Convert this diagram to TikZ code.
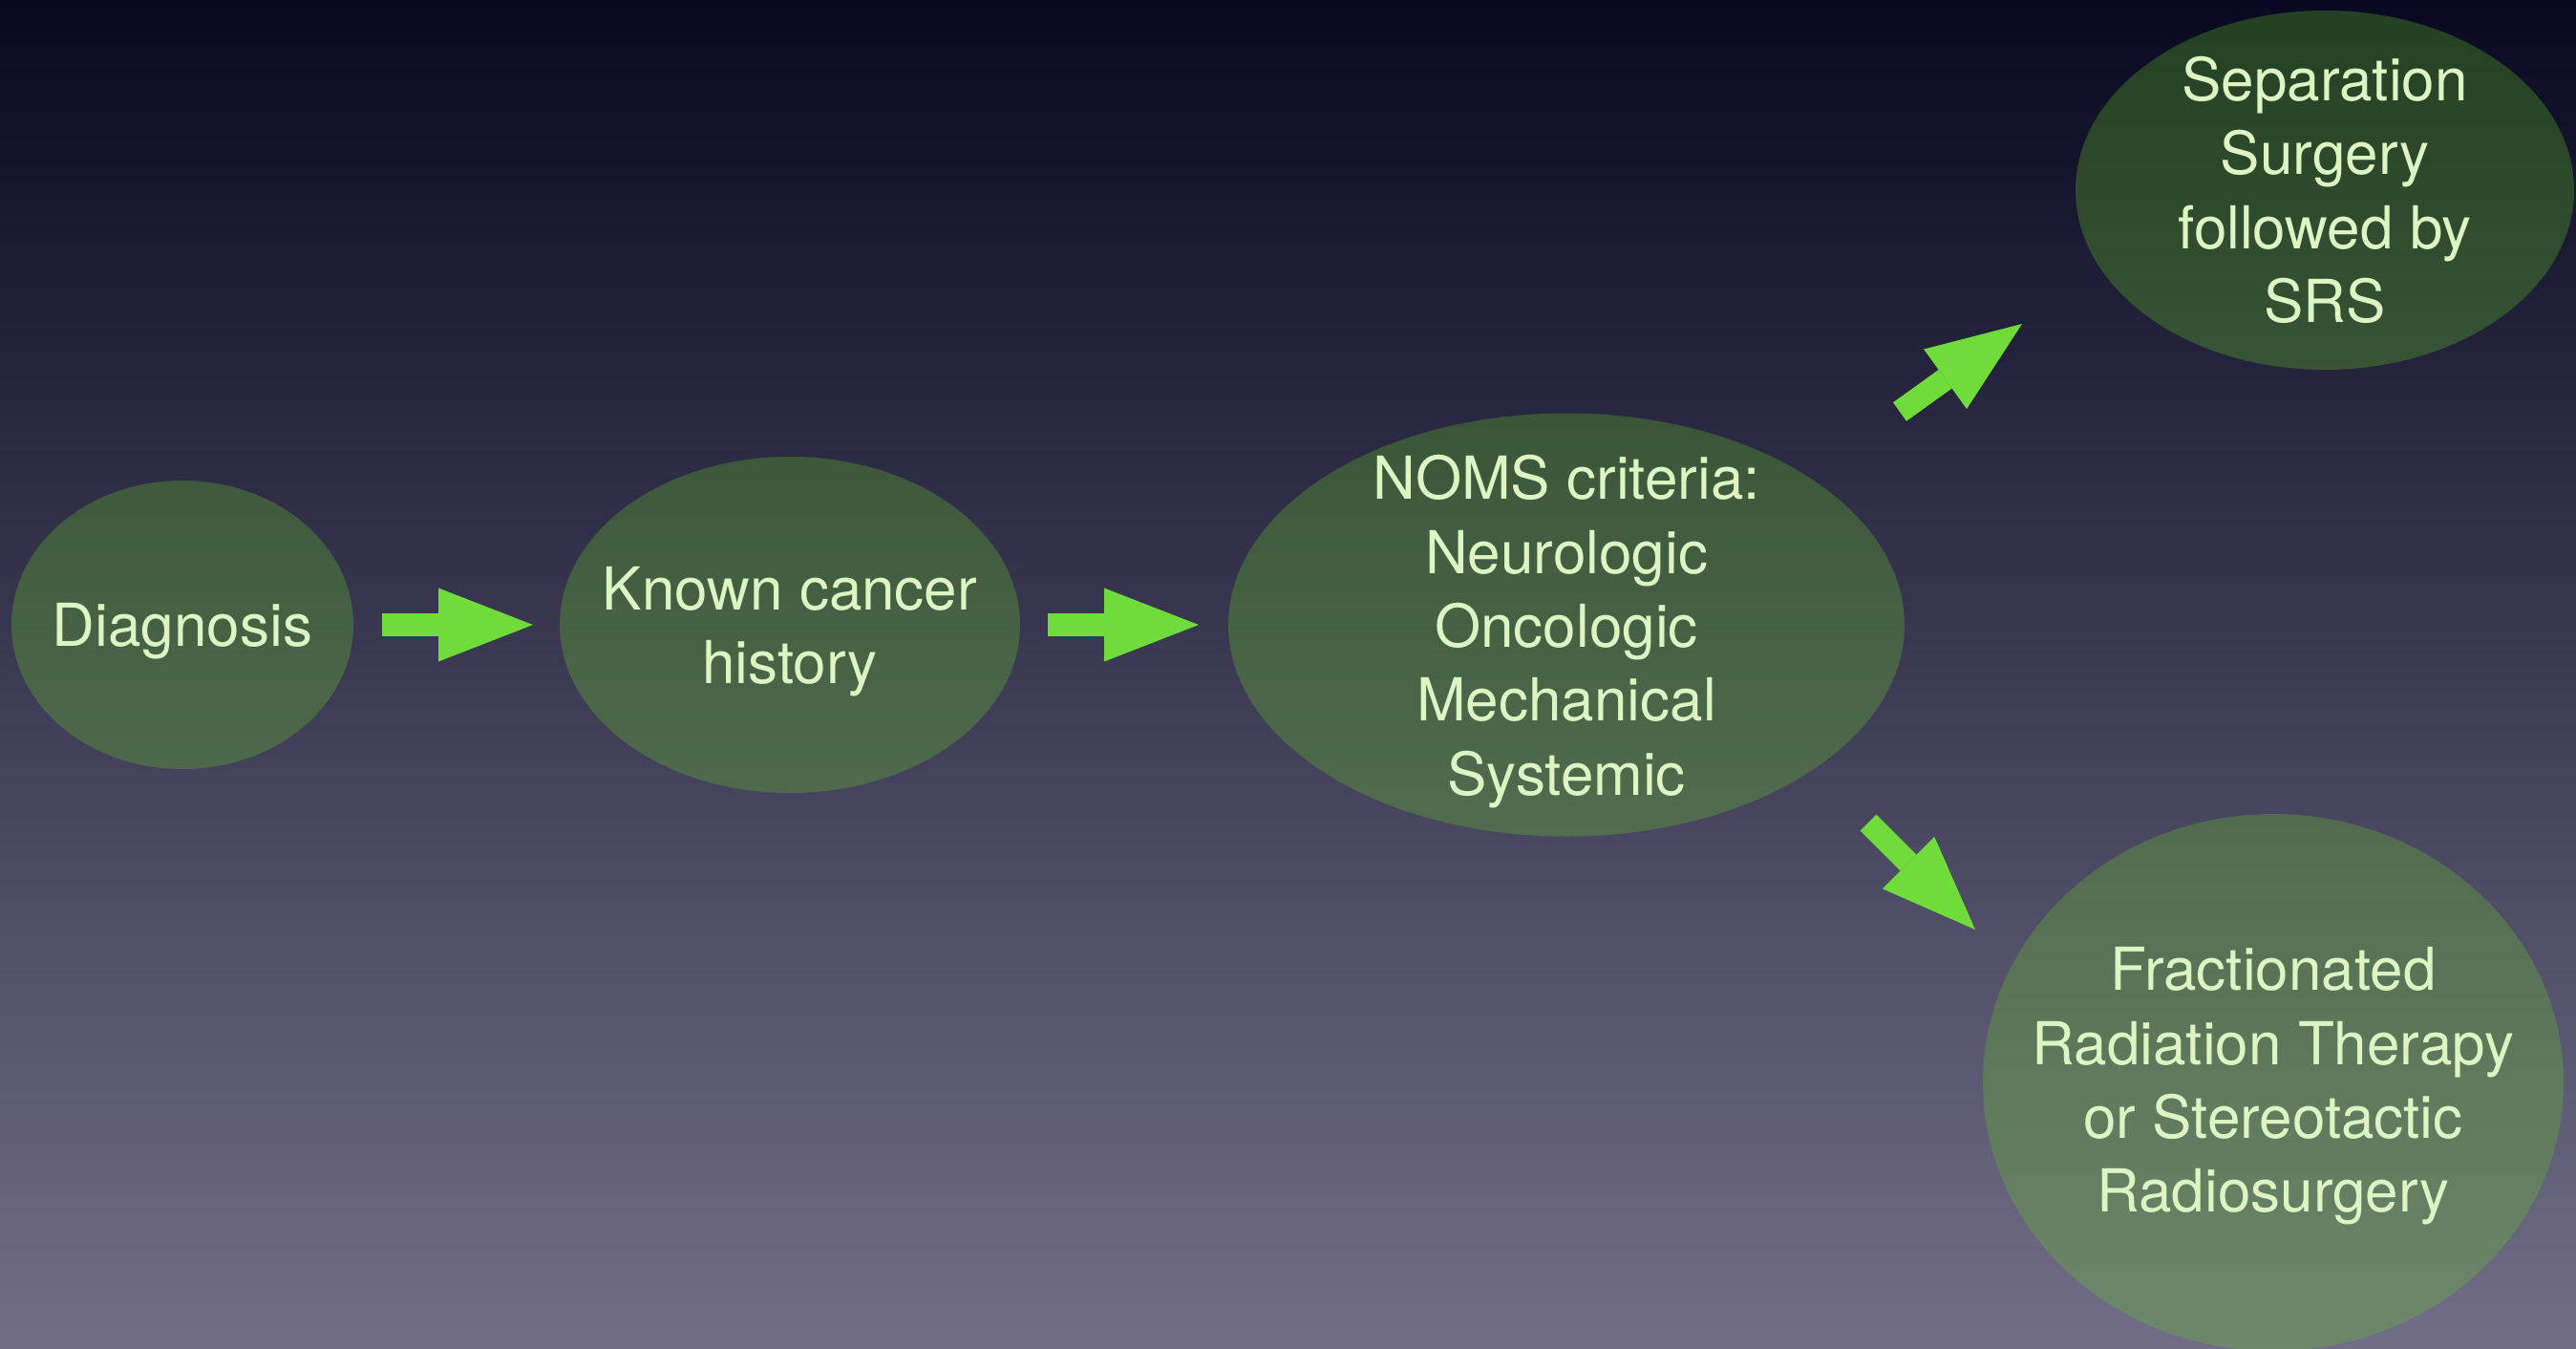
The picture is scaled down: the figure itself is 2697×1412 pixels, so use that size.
\documentclass[tikz,border=0pt]{standalone}
\usepackage{fontspec}
\setmainfont{TeX Gyre Heros}
\usetikzlibrary{shapes.geometric,arrows.meta}

\definecolor{bgtop}{RGB}{8,8,32}
\definecolor{bgbottom}{RGB}{114,110,136}
\definecolor{blobfill}{RGB}{100,195,40}
\definecolor{blobtext}{RGB}{220,245,195}
\definecolor{arrowgreen}{RGB}{112,220,60}

\tikzset{every picture/.style={line width=0.75pt}}
\tikzset{
  stage/.style={ellipse, fill=blobfill, fill opacity=0.3, inner sep=0pt, outer sep=0pt},
  stagetext/.style={text=blobtext, text opacity=1, fill opacity=1, inner sep=0pt,
    yshift=-1.75pt, align=center, font=\fontsize{15.5pt}{19.35pt}\selectfont},
  flowarrow/.style={draw=arrowgreen, line width=6pt,
    -{Triangle[length=24.75pt,width=19.25pt,line width=0pt]}}
}

\begin{document}
\begin{tikzpicture}[x=0.25pt,y=0.25pt,yscale=-1,xscale=1]
\useasboundingbox (0,0) rectangle (2697,1412);
%background
\shade [top color=bgtop, bottom color=bgbottom] (0,0) rectangle (2697,1412);

% Stages
\node [stage, minimum width=89.5pt, minimum height=75.5pt,
  label={[stagetext]center:Diagnosis}] (diag) at (191,654) {};
\node [stage, minimum width=120.5pt, minimum height=88pt,
  label={[stagetext]center:{Known cancer\\history}}] (known) at (827,654) {};
\node [stage, minimum width=177pt, minimum height=110.75pt,
  label={[stagetext]center:{NOMS criteria:\\Neurologic\\Oncologic\\Mechanical\\Systemic}}] (noms) at (1640,654) {};
\node [stage, minimum width=130.5pt, minimum height=94pt,
  label={[stagetext, yshift=1.75pt]center:{Separation\\Surgery\\followed by\\SRS}}] (sep) at (2434,199) {};
\node [stage, minimum width=152pt, minimum height=140.5pt,
  label={[stagetext, yshift=0.75pt]center:{Fractionated\\Radiation Therapy\\or Stereotactic\\Radiosurgery}}] (frac) at (2380,1133) {};

% Arrow ends
\coordinate (a1s) at (400,654);
\coordinate (a1e) at (558,654);
\coordinate (a2s) at (1097,654);
\coordinate (a2e) at (1255,654);
\coordinate (a3s) at (1989,431);
\coordinate (a3e) at (2117,339);
\coordinate (a4s) at (1956,861);
\coordinate (a4e) at (2068,973);

% Arrows
\draw [flowarrow] (a1s) -- (a1e);
\draw [flowarrow] (a2s) -- (a2e);
\draw [flowarrow] (a3s) -- (a3e);
\draw [flowarrow] (a4s) -- (a4e);

\end{tikzpicture}
\end{document}
